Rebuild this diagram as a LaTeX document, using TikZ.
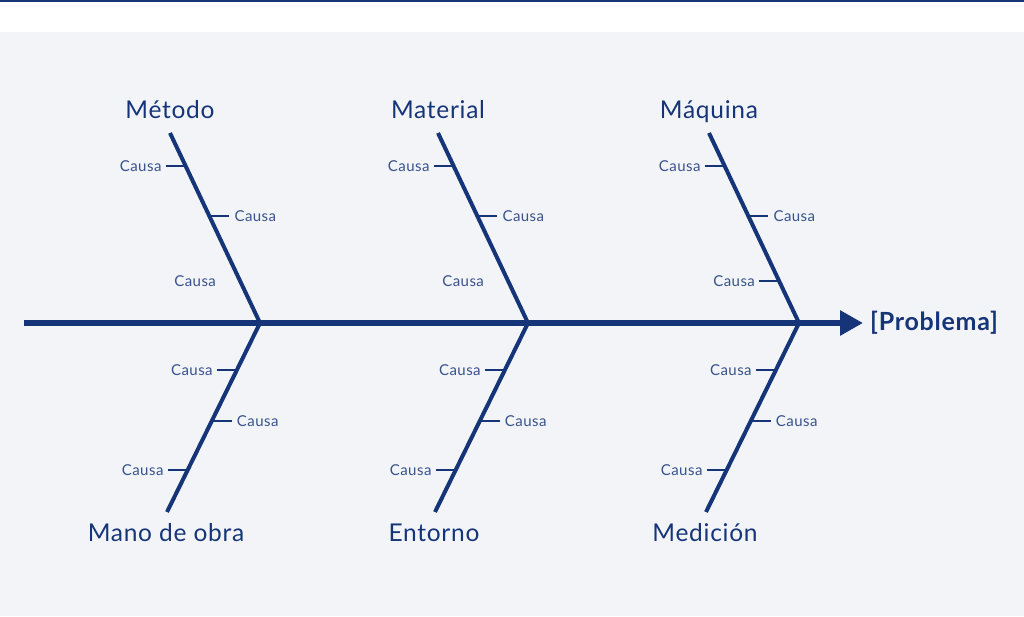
\documentclass[tikz,border=0pt]{standalone}
\usepackage{fontspec}
\setmainfont{Lato}
\newfontfamily\widelato[LetterSpace=3]{Lato}
\usetikzlibrary{arrows.meta,calc}
\definecolor{navy}{RGB}{22,53,120}
\definecolor{bg}{RGB}{242,244,248}
\begin{document}
\begin{tikzpicture}[x=1pt,y=1pt,
  bone/.style={draw=navy,line width=4pt},
  twig/.style={draw=navy,line width=2pt},
  spine/.style={draw=navy,line width=6pt,-{Triangle[length=23pt,width=24pt]}},
  cause/.style={font=\widelato\fontsize{15}{17}\selectfont,text=navy!85!white,inner sep=0pt},
  cat/.style={font=\widelato\fontsize{24.5}{28}\selectfont,text=navy,inner sep=0pt},
  prob/.style={font=\widelato\fontsize{25}{28}\selectfont\bfseries,text=navy,inner sep=0pt}]
\fill[white] (0,0) rectangle (1024,616);
\fill[bg] (0,0) rectangle (1024,584);
\fill[navy] (0,614) rectangle (1024,616);
\useasboundingbox (0,0) rectangle (1024,616);

% spine
\coordinate (s0) at (24,293);
\node[prob,anchor=west] (prob) at (870,293) {[Problema]};
\draw[spine,shorten >=7pt] (s0) -- (prob.west);

\foreach \n/\tx/\jx/\bx/\up/\down/\third in {
  A/170/260/167/Método/Mano de obra/0,
  B/438/528/435/Material/Entorno/0,
  C/709/799/706/Máquina/Medición/1}{
  \coordinate (\n top) at (\tx,483);
  \coordinate (\n j) at (\jx,293);
  \coordinate (\n bot) at (\bx,104);
  \draw[bone,line cap=butt] (\n top) -- (\n j) -- (\n bot);
  \node[cat,anchor=base] (\n upl) at (\tx,497) {\up};
  \node[cat,anchor=base] (\n dnl) at (\bx-1,74.3) {\down};
  % upper ticks
  \coordinate (\n u1) at ($(\n top)!0.174!(\n j)$);
  \draw[twig] (\n u1) -- ++(-20,0) coordinate (\n u1e);
  \node[cause,anchor=east] (\n u1t) at ($(\n u1e)+(-4,0)$) {Causa};
  \coordinate (\n u2) at ($(\n top)!0.437!(\n j)$);
  \draw[twig] (\n u2) -- ++(20,0) coordinate (\n u2e);
  \node[cause,anchor=west] (\n u2t) at ($(\n u2e)+(5,0)$) {Causa};
  \coordinate (\n u3) at ($(\n top)!0.779!(\n j)$);
  \coordinate (\n u3e) at ($(\n u3)+(-20,0)$);
  \ifnum\third=1 \draw[twig] (\n u3) -- (\n u3e); \fi
  \node[cause,anchor=east] (\n u3t) at ($(\n u3e)+(-4,0)$) {Causa};
  % lower ticks
  \coordinate (\n d1) at ($(\n j)!0.249!(\n bot)$);
  \draw[twig] (\n d1) -- ++(-20,0) coordinate (\n d1e);
  \node[cause,anchor=east] (\n d1t) at ($(\n d1e)+(-4,0)$) {Causa};
  \coordinate (\n d2) at ($(\n j)!0.519!(\n bot)$);
  \draw[twig] (\n d2) -- ++(20,0) coordinate (\n d2e);
  \node[cause,anchor=west] (\n d2t) at ($(\n d2e)+(5,0)$) {Causa};
  \coordinate (\n d3) at ($(\n j)!0.778!(\n bot)$);
  \draw[twig] (\n d3) -- ++(-20,0) coordinate (\n d3e);
  \node[cause,anchor=east] (\n d3t) at ($(\n d3e)+(-4,0)$) {Causa};
}
\end{tikzpicture}
\end{document}
